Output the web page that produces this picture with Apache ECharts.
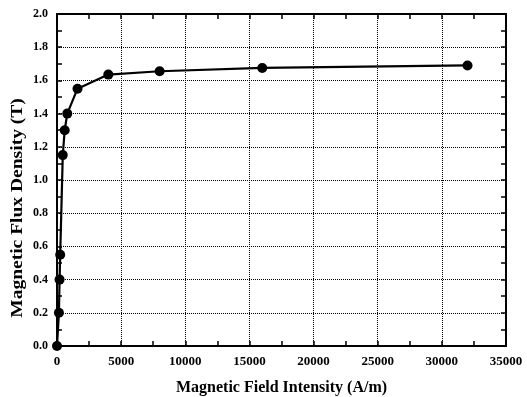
<!DOCTYPE html>
<html>
<head>
<meta charset="utf-8">
<script src="https://cdn.jsdelivr.net/npm/echarts@6/dist/echarts.min.js"></script>
<style>
  html, body { margin: 0; padding: 0; background: #fff; }
  #chart { width: 527px; height: 397px; }
</style>
</head>
<body>
<div id="chart"></div>
<script>
// B-H curve readings
var fieldIntensity = [0, 150, 200, 250, 450, 600, 800, 1600, 4000, 8000, 16000, 32000]
var fluxDensity = [0, 0.2, 0.4, 0.55, 1.15, 1.3, 1.4, 1.55, 1.635, 1.655, 1.675, 1.69]

var xName = 'Magnetic Field Intensity (A/m)'
var yName = 'Magnetic Flux Density (T)'

var font = 'Liberation Serif, Times New Roman, serif'

var points = []
for (var i = 0; i < fieldIntensity.length; i++) {
  points.push([fieldIntensity[i], fluxDensity[i]])
}

var lineStyle = { color: '#000', width: 2 }

function xAxis (main) {
  return {
    type: 'value',
    position: main ? 'bottom' : 'top',
    min: 0,
    max: 35000,
    interval: 5000,
    name: main ? xName : '',
    nameLocation: 'middle',
    nameGap: 34,
    nameTextStyle: { fontFamily: font, fontWeight: 'bold', fontSize: 16, color: '#000' },
    axisLine: { show: true, onZero: false, lineStyle: lineStyle },
    axisTick: { show: true, inside: true, length: 5, lineStyle: { color: '#000', width: 1.5 } },
    minorTick: { show: true, splitNumber: 2, length: 5, lineStyle: { color: '#000', width: 1.5 } },
    axisLabel: {
      show: main,
      fontFamily: font,
      fontWeight: 'bold',
      fontSize: 13,
      color: '#000',
      margin: 9,
      formatter: function (v) { return String(v) }
    },
    splitLine: main ? { show: true, lineStyle: { type: 'dotted', color: '#000', width: 1 } } : { show: false }
  }
}

function yAxis (main) {
  return {
    type: 'value',
    position: main ? 'left' : 'right',
    min: 0,
    max: 2.0,
    interval: 0.2,
    axisLine: { show: true, onZero: false, lineStyle: lineStyle },
    axisTick: { show: true, inside: true, length: 5, lineStyle: { color: '#000', width: 1.5 } },
    minorTick: { show: true, splitNumber: 2, length: 5, lineStyle: { color: '#000', width: 1.5 } },
    axisLabel: {
      show: main,
      fontFamily: font,
      fontWeight: 'bold',
      fontSize: 12,
      color: '#000',
      margin: 9,
      formatter: function (v) { return v.toFixed(1) }
    },
    splitLine: main ? { show: true, lineStyle: { type: 'dotted', color: '#000', width: 1 } } : { show: false }
  }
}

var chart = echarts.init(document.getElementById('chart'))
chart.setOption({
  animation: false,
  backgroundColor: '#fff',
  grid: { left: 57, right: 21, top: 14, bottom: 51, outerBoundsMode: 'none' },
  xAxis: [xAxis(true), xAxis(false)],
  yAxis: [yAxis(true), yAxis(false)],
  // y title is drawn wider than the x title in the original, so stretch it
  graphic: [{
    type: 'text',
    x: 18,
    y: 208,
    rotation: Math.PI / 2,
    scaleX: 1.22,
    style: {
      text: yName,
      font: 'bold 16px ' + font,
      fill: '#000',
      align: 'center',
      verticalAlign: 'middle'
    }
  }],
  series: [{
    type: 'line',
    xAxisIndex: 0,
    yAxisIndex: 0,
    data: points,
    symbol: 'circle',
    symbolSize: 10,
    itemStyle: { color: '#000' },
    lineStyle: { color: '#000', width: 2.2 }
  }]
})
</script>
</body>
</html>
